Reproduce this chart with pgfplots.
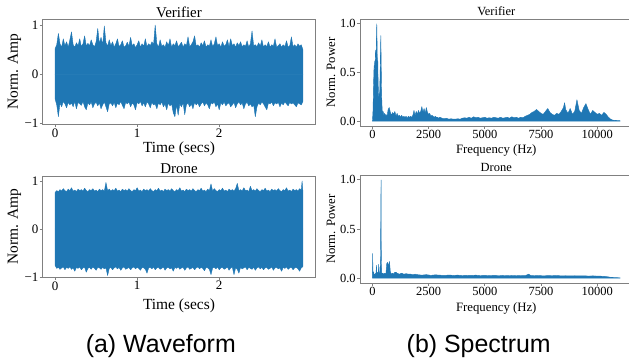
\documentclass[border=0pt]{standalone}
\usepackage{fontspec}
\setmainfont{Liberation Serif}
\newfontfamily\capfont{Liberation Sans}
\usepackage{pgfplots}
\usepackage{pgfplotstable}
\pgfplotsset{compat=1.18}
\definecolor{mplblue}{HTML}{1F77B4}
\definecolor{spine}{HTML}{808080}

\pgfplotstableread{
t up lo
0.00 0.52 -0.50
0.02 0.60 -0.62
0.04 0.83 -0.86
0.06 0.62 -0.58
0.08 0.55 -0.66
0.10 0.72 -0.55
0.12 0.58 -0.60
0.14 0.66 -0.68
0.16 0.55 -0.57
0.18 0.70 -0.62
0.20 0.86 -0.58
0.22 0.60 -0.66
0.24 0.55 -0.55
0.26 0.64 -0.70
0.28 0.58 -0.57
0.30 0.72 -0.60
0.32 0.56 -0.63
0.34 0.62 -0.55
0.36 0.78 -0.66
0.38 0.57 -0.72
0.40 0.63 -0.58
0.42 0.58 -0.62
0.44 0.70 -0.56
0.46 0.60 -0.68
0.48 0.56 -0.60
0.50 0.66 -0.57
0.52 0.93 -0.64
0.54 0.62 -0.58
0.56 0.75 -0.70
0.58 0.60 -0.62
0.60 0.98 -0.56
0.62 0.64 -0.66
0.64 0.57 -0.76
0.66 0.70 -0.60
0.68 0.58 -0.58
0.70 0.66 -0.64
0.72 0.55 -0.57
0.74 0.62 -0.68
0.76 0.72 -0.58
0.78 0.56 -0.62
0.80 0.60 -0.55
0.82 0.68 -0.63
0.84 0.55 -0.70
0.86 0.58 -0.57
0.88 0.65 -0.60
0.90 0.57 -0.56
0.92 0.75 -0.66
0.94 0.58 -0.58
0.96 0.62 -0.62
0.98 0.54 -0.72
1.00 0.60 -0.57
1.02 0.68 -0.60
1.04 0.55 -0.55
1.06 0.62 -0.64
1.08 0.57 -0.58
1.10 0.72 -0.66
1.12 0.56 -0.56
1.14 0.62 -0.60
1.16 0.58 -0.68
1.18 0.66 -0.57
1.20 0.60 -0.62
1.22 1.00 -0.60
1.24 0.62 -0.70
1.26 0.55 -0.58
1.28 0.70 -0.62
1.30 0.57 -0.56
1.32 0.60 -0.66
1.34 0.55 -0.60
1.36 0.66 -0.72
1.38 0.58 -0.58
1.40 0.72 -0.64
1.42 0.55 -0.60
1.44 0.62 -0.78
1.46 0.58 -0.86
1.48 0.68 -0.62
1.50 0.56 -0.83
1.52 0.60 -0.60
1.54 0.65 -0.66
1.56 0.55 -0.58
1.58 0.62 -0.82
1.60 0.58 -0.62
1.62 0.76 -0.58
1.64 0.56 -0.66
1.66 0.60 -0.60
1.68 0.66 -0.70
1.70 0.78 -0.57
1.72 0.57 -0.62
1.74 0.60 -0.58
1.76 0.55 -0.66
1.78 0.64 -0.60
1.80 0.58 -0.56
1.82 0.68 -0.64
1.84 0.55 -0.58
1.86 0.60 -0.62
1.88 0.57 -0.70
1.90 0.70 -0.58
1.92 0.56 -0.60
1.94 0.62 -0.56
1.96 0.76 -0.66
1.98 0.58 -0.60
2.00 0.62 -0.72
2.02 0.55 -0.58
2.04 0.66 -0.62
2.06 0.57 -0.56
2.08 0.60 -0.64
2.10 0.70 -0.60
2.12 0.56 -0.58
2.14 0.72 -0.66
2.16 0.58 -0.62
2.18 0.62 -0.57
2.20 0.55 -0.68
2.22 0.64 -0.60
2.24 0.58 -0.56
2.26 0.66 -0.62
2.28 0.56 -0.58
2.30 0.60 -0.70
2.32 0.57 -0.60
2.34 0.68 -0.57
2.36 0.55 -0.64
2.38 0.62 -0.60
2.40 0.88 -0.66
2.42 0.58 -0.62
2.44 0.60 -0.86
2.46 0.56 -0.66
2.48 0.64 -0.58
2.50 0.57 -0.62
2.52 0.70 -0.56
2.54 0.55 -0.60
2.56 0.60 -0.66
2.58 0.56 -0.72
2.60 0.66 -0.58
2.62 0.55 -0.60
2.64 0.60 -0.56
2.66 0.57 -0.64
2.68 0.72 -0.58
2.70 0.55 -0.60
2.72 0.58 -0.57
2.74 0.62 -0.66
2.76 0.55 -0.58
2.78 0.60 -0.62
2.80 0.56 -0.56
2.82 0.68 -0.60
2.84 0.55 -0.64
2.86 0.58 -0.57
2.88 0.76 -0.60
2.90 0.56 -0.58
2.92 0.60 -0.62
2.94 0.55 -0.66
2.96 0.62 -0.58
2.98 0.57 -0.60
3.00 0.60 -0.62
3.02 0.50 -0.55
}\verwave

\pgfplotstableread{
t up lo
0.00 0.76 -0.76
0.02 0.80 -0.82
0.04 0.78 -0.80
0.06 0.82 -0.84
0.08 0.79 -0.81
0.10 0.84 -0.79
0.12 0.80 -0.85
0.14 0.78 -0.80
0.16 0.83 -0.82
0.18 0.80 -0.79
0.20 0.86 -0.84
0.22 0.79 -0.81
0.24 0.81 -0.88
0.26 0.78 -0.80
0.28 0.83 -0.82
0.30 0.80 -0.79
0.32 0.82 -0.85
0.34 0.79 -0.81
0.36 0.85 -0.80
0.38 0.80 -0.90
0.40 0.78 -0.82
0.42 0.82 -0.80
0.44 0.80 -0.84
0.46 0.84 -0.79
0.48 0.79 -0.82
0.50 0.81 -0.86
0.52 0.78 -0.80
0.54 0.83 -0.81
0.56 0.80 -0.84
0.58 0.82 -0.80
0.60 0.79 -0.83
0.62 0.97 -0.81
0.64 0.80 -0.97
0.66 0.83 -0.82
0.68 0.79 -0.80
0.70 0.82 -0.85
0.72 0.80 -0.81
0.74 0.85 -0.79
0.76 0.79 -0.83
0.78 0.81 -0.80
0.80 0.78 -0.86
0.82 0.83 -0.81
0.84 0.80 -0.79
0.86 0.82 -0.84
0.88 0.79 -0.82
0.90 0.84 -0.80
0.92 0.80 -0.85
0.94 0.78 -0.81
0.96 0.82 -0.79
0.98 0.80 -0.83
1.00 0.86 -0.80
1.02 0.79 -0.82
1.04 0.81 -0.86
1.06 0.78 -0.80
1.08 0.83 -0.81
1.10 0.80 -0.84
1.12 0.82 -0.92
1.14 0.79 -0.81
1.16 0.84 -0.80
1.18 0.80 -0.83
1.20 0.78 -0.79
1.22 0.82 -0.85
1.24 0.80 -0.81
1.26 0.85 -0.80
1.28 0.79 -0.84
1.30 0.81 -0.82
1.32 0.78 -0.79
1.34 0.83 -0.86
1.36 0.80 -0.81
1.38 0.82 -0.80
1.40 0.79 -0.83
1.42 0.84 -0.81
1.44 0.80 -0.88
1.46 0.78 -0.80
1.48 0.82 -0.82
1.50 0.80 -0.79
1.52 0.86 -0.84
1.54 0.79 -0.81
1.56 0.81 -0.80
1.58 0.78 -0.86
1.60 0.83 -0.81
1.62 0.80 -0.79
1.64 0.82 -0.84
1.66 0.79 -0.82
1.68 0.84 -0.80
1.70 0.80 -0.85
1.72 0.78 -0.81
1.74 0.82 -0.79
1.76 0.80 -0.83
1.78 0.85 -0.80
1.80 0.79 -0.82
1.82 0.81 -0.87
1.84 0.78 -0.80
1.86 0.83 -0.81
1.88 0.80 -0.84
1.90 0.94 -0.95
1.92 0.79 -0.81
1.94 0.84 -0.80
1.96 0.80 -0.83
1.98 0.78 -0.79
2.00 0.82 -0.85
2.02 0.80 -0.81
2.04 0.85 -0.80
2.06 0.79 -0.84
2.08 0.81 -0.82
2.10 0.78 -0.79
2.12 0.83 -0.86
2.14 0.80 -0.81
2.16 0.82 -0.80
2.18 0.79 -0.95
2.20 0.84 -0.81
2.22 0.95 -0.84
2.24 0.80 -0.92
2.26 0.82 -0.80
2.28 0.79 -0.83
2.30 0.86 -0.81
2.32 0.80 -0.79
2.34 0.81 -0.85
2.36 0.78 -0.80
2.38 0.89 -0.82
2.40 0.80 -0.84
2.42 0.82 -0.80
2.44 0.79 -0.86
2.46 0.84 -0.81
2.48 0.80 -0.79
2.50 0.78 -0.83
2.52 0.82 -0.80
2.54 0.80 -0.85
2.56 0.85 -0.81
2.58 0.79 -0.80
2.60 0.81 -0.84
2.62 0.78 -0.82
2.64 0.83 -0.79
2.66 0.80 -0.86
2.68 0.82 -0.81
2.70 0.79 -0.80
2.72 0.84 -0.83
2.74 0.80 -0.81
2.76 0.78 -0.88
2.78 0.82 -0.80
2.80 0.80 -0.82
2.82 0.86 -0.79
2.84 0.79 -0.84
2.86 0.81 -0.81
2.88 0.78 -0.80
2.90 0.83 -0.85
2.92 0.80 -0.81
2.94 0.82 -0.80
2.96 0.79 -0.83
2.98 0.84 -0.88
3.00 0.81 -0.81
3.01 1.00 -0.80
3.02 0.78 -0.78
}\dronewave

\pgfplotstableread{
f p
0 0.00
15 0.05
30 0.12
45 0.33
60 0.45
75 0.57
90 0.50
105 0.62
120 0.58
135 0.70
150 0.73
165 0.66
180 0.85
195 1.00
210 0.78
225 0.55
240 0.62
255 0.40
270 0.30
285 0.22
300 0.28
315 0.20
330 0.35
345 0.50
360 0.70
375 0.88
390 0.62
405 0.35
420 0.20
435 0.12
450 0.08
480 0.10
510 0.06
540 0.08
570 0.05
600 0.07
650 0.05
700 0.12
750 0.14
800 0.09
850 0.06
900 0.09
950 0.07
1000 0.10
1050 0.05
1100 0.08
1150 0.05
1200 0.06
1250 0.04
1300 0.06
1350 0.04
1400 0.05
1450 0.04
1500 0.05
1550 0.03
1600 0.05
1650 0.04
1700 0.05
1750 0.04
1800 0.06
1850 0.11
1900 0.06
1950 0.10
2000 0.07
2050 0.11
2100 0.08
2150 0.10
2200 0.15
2250 0.09
2300 0.13
2350 0.08
2400 0.14
2450 0.09
2500 0.07
2550 0.08
2600 0.05
2650 0.06
2700 0.05
2750 0.04
2800 0.05
2850 0.04
2900 0.04
2950 0.03
3000 0.04
3100 0.03
3200 0.025
3300 0.03
3400 0.02
3500 0.025
3600 0.02
3700 0.02
3800 0.025
3900 0.02
4000 0.03
4100 0.035
4200 0.03
4300 0.04
4400 0.03
4500 0.045
4600 0.035
4700 0.04
4800 0.03
4900 0.035
5000 0.04
5100 0.03
5200 0.035
5300 0.03
5400 0.04
5500 0.035
5600 0.03
5700 0.04
5800 0.03
5900 0.035
6000 0.04
6100 0.03
6200 0.045
6300 0.035
6400 0.04
6500 0.03
6600 0.04
6700 0.035
6800 0.05
6900 0.06
7000 0.07
7100 0.09
7200 0.10
7300 0.12
7400 0.10
7500 0.08
7600 0.07
7700 0.10
7800 0.13
7900 0.09
8000 0.07
8100 0.06
8200 0.08
8300 0.07
8400 0.10
8500 0.14
8550 0.19
8600 0.12
8700 0.08
8800 0.13
8900 0.07
9000 0.10
9100 0.22
9200 0.11
9300 0.08
9400 0.14
9500 0.18
9600 0.12
9700 0.07
9800 0.11
9900 0.09
10000 0.07
10100 0.08
10200 0.06
10300 0.09
10400 0.07
10500 0.04
10600 0.02
10700 0.01
10800 0.008
10900 0.006
11000 0.005
11025 0.004
}\verspec

\pgfplotstableread{
f p
0 0.00
10 0.25
25 0.08
40 0.05
60 0.06
80 0.03
100 0.04
120 0.03
140 0.05
160 0.04
180 0.13
200 0.05
220 0.04
240 0.06
260 0.04
280 0.14
300 0.05
320 0.04
340 0.06
360 0.20
370 0.52
385 1.00
395 0.30
410 0.06
430 0.04
460 0.05
500 0.04
550 0.05
600 0.04
640 0.15
680 0.16
720 0.12
760 0.17
800 0.06
850 0.04
900 0.05
950 0.04
1000 0.06
1050 0.06
1100 0.05
1150 0.045
1200 0.04
1300 0.05
1400 0.04
1500 0.045
1600 0.04
1700 0.04
1800 0.035
1900 0.04
2000 0.035
2200 0.030
2400 0.035
2600 0.028
2800 0.033
3000 0.030
3200 0.027
3400 0.031
3600 0.028
3800 0.030
4000 0.026
4200 0.029
4400 0.027
4600 0.030
4800 0.026
5000 0.028
5200 0.025
5400 0.028
5600 0.026
5800 0.027
6000 0.025
6200 0.027
6400 0.024
6600 0.026
6800 0.025
6950 0.040
7050 0.026
7200 0.024
7400 0.026
7600 0.023
7800 0.025
8000 0.024
8200 0.026
8400 0.023
8600 0.024
8800 0.022
9000 0.024
9200 0.022
9400 0.023
9600 0.021
9800 0.022
10000 0.021
10200 0.019
10400 0.016
10500 0.012
10600 0.008
10800 0.005
11025 0.003
}\dronespec

\pgfplotsset{
  base/.style={
    scale only axis, anchor=south west, width=272.6bp,
    axis line style={draw=spine, line width=0.9bp},
    tick style={draw=spine, line width=0.9bp},
    major tick length=3bp, tick align=outside, tick pos=left,
    scaled ticks=false, clip=true,
  },
  wave/.style={
    base,
    xmin=-0.151, xmax=3.171,
    xtick={0,1,2}, xticklabels={0,1,2},
    ytick={-1,0,1}, yticklabels={−1,0,1},
    tick label style={font=\fontsize{13}{15}\selectfont, inner sep=1.2bp},
    every axis y label/.style={at={(axis description cs:-0.1035,0.5)}, rotate=90, anchor=center, font=\fontsize{15.5}{18}\selectfont},
    ylabel={Norm. Amp}, xlabel={Time (secs)},
  },
  spec/.style={
    base,
    xmin=-551.25, xmax=11576.25, ymin=-0.05, ymax=1.05,
    xtick={0,2500,5000,7500,10000}, xticklabels={0,2500,5000,7500,10000},
    ytick={0,0.5,1}, yticklabels={0.0,0.5,1.0},
    tick label style={font=\fontsize{12.5}{15}\selectfont, inner sep=1.2bp},
    every axis y label/.style={at={(axis description cs:-0.106,0.5)}, rotate=90, anchor=center, font=\fontsize{12.8}{15}\selectfont},
    ylabel={Norm. Power}, xlabel={Frequency (Hz)},
  },
}

\begin{document}
\begin{tikzpicture}
% top-left
\begin{axis}[wave, at={(42.7bp,233.7bp)}, height=105.3bp,
  ymin=-1.014, ymax=1.122,
  title={Verifier},
  every axis title/.style={at={(axis description cs:0.5,1.016)}, anchor=base, font=\fontsize{15}{18}\selectfont},
  every axis x label/.style={at={(axis description cs:0.5,-0.265)}, anchor=base, font=\fontsize{15.5}{18}\selectfont},
]
\addplot[draw=mplblue, fill=mplblue, line width=0.4bp, line join=round] table[x=t, y=up] {\verwave} \closedcycle;
\addplot[draw=mplblue, fill=mplblue, line width=0.4bp, line join=round] table[x=t, y=lo] {\verwave} \closedcycle;
\end{axis}
% bottom-left
\begin{axis}[wave, at={(42.7bp,81bp)}, height=100.8bp,
  ymin=-1.0, ymax=1.1,
  title={Drone},
  every axis title/.style={at={(axis description cs:0.5,1.022)}, anchor=base, font=\fontsize{15}{18}\selectfont},
  every axis x label/.style={at={(axis description cs:0.5,-0.326)}, anchor=base, font=\fontsize{15.5}{18}\selectfont},
]
\addplot[draw=mplblue, fill=mplblue, line width=0.4bp, line join=round] table[x=t, y=up] {\dronewave} \closedcycle;
\addplot[draw=mplblue, fill=mplblue, line width=0.4bp, line join=round] table[x=t, y=lo] {\dronewave} \closedcycle;
\end{axis}
% top-right
\begin{axis}[spec, at={(360bp,232bp)}, height=107bp,
  title={Verifier},
  every axis title/.style={at={(axis description cs:0.5,1.031)}, anchor=base, font=\fontsize{12.5}{15}\selectfont},
  every axis x label/.style={at={(axis description cs:0.5,-0.259)}, anchor=base, font=\fontsize{12.8}{15}\selectfont},
]
\addplot[draw=mplblue, fill=mplblue, line width=0.4bp, line join=round] table[x=f, y=p] {\verspec} \closedcycle;
\end{axis}
% bottom-right
\begin{axis}[spec, at={(360bp,75bp)}, height=108bp,
  title={Drone},
  every axis title/.style={at={(axis description cs:0.5,1.031)}, anchor=base, font=\fontsize{12.5}{15}\selectfont},
  every axis x label/.style={at={(axis description cs:0.5,-0.266)}, anchor=base, font=\fontsize{12.8}{15}\selectfont},
]
\addplot[draw=mplblue, fill=mplblue, line width=0.4bp, line join=round] table[x=f, y=p] {\dronespec} \closedcycle;
\end{axis}
\node[anchor=base, font=\capfont\fontsize{25}{30}\selectfont] at (160.8bp,6bp) {(a) Waveform};
\node[anchor=base, font=\capfont\fontsize{25}{30}\selectfont] at (478.7bp,6bp) {(b) Spectrum};
\pgfresetboundingbox
\useasboundingbox (0,0) rectangle (629bp,358bp);
\end{tikzpicture}
\end{document}
